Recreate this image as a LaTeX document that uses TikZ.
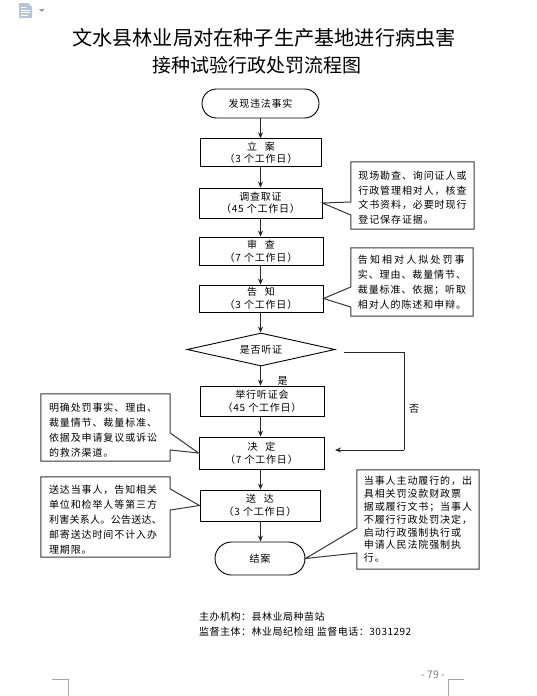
\documentclass[tikz,border=0pt]{standalone}
\usepackage{fontspec}
\setmainfont{Noto Sans CJK SC}
\usetikzlibrary{shapes.geometric,shapes.misc,arrows.meta}
\newcommand\bodyf{\fontsize{10}{12.5}\selectfont\addfontfeature{LetterSpace=8}}
\newcommand\callf[1]{\fontsize{10}{#1}\selectfont\addfontfeature{LetterSpace=9}}
\newcommand\gp{\hspace{8pt}}
\newcommand\tstrut{\rule{0pt}{13pt}}
\tikzset{
  x=1pt,y=-1pt,
  flowbox/.style={draw=black,line width=0.9pt,fill=white,inner sep=0pt,align=center,font=\bodyf},
  endbox/.style={flowbox,rounded rectangle},
  decis/.style={flowbox,diamond,aspect=4.3},
  calltext/.style={inner sep=0pt,align=left},
  callline/.style={draw=black!78,line width=1pt,line join=miter},
  arr/.style={draw=black!85,line width=1pt,-{Stealth[length=6pt,width=5pt]}},
  plain/.style={inner sep=0pt,font=\fontsize{10}{15}\selectfont\addfontfeature{LetterSpace=5}},
  crop/.style={draw=black!35,line width=0.8pt},
}
\begin{document}
\begin{tikzpicture}
\useasboundingbox[fill=white] (0,0) rectangle (537,696);
% header icon
\fill[blue!45!cyan!30!gray!45] (19,3) -- (28,3) -- (32,7) -- (32,18) -- (19,18) -- cycle;
\draw[white,line width=0.8pt] (21,7) -- (26,7) (21,10) -- (30,10) (21,12.5) -- (30,12.5) (21,15) -- (28,15);
\fill[black!40] (39,9) -- (44.5,9) -- (41.7,12) -- cycle;
% title
\node[inner sep=0pt] (t1) at (264,38) {\fontsize{20.2}{24}\selectfont 文水县林业局对在种子生产基地进行病虫害};
\node[inner sep=0pt] (t2) at (256.5,65) {\fontsize{19}{24}\selectfont 接种试验行政处罚流程图};
\coordinate (col) at (260.5,0);
% yes label (partly behind box)
\node[inner sep=0pt,font=\fontsize{10}{12}\selectfont] (yes) at (282.5,381) {是};
% flow nodes
\node[endbox,minimum width=117pt,minimum height=29pt] (n0) at (260.5,103.5) {发现违法事实};
\node[flowbox,minimum width=121pt,minimum height=27.5pt] (n1) at (261,152.5) {立\gp 案\\（3 个工作日）};
\node[flowbox,minimum width=123pt,minimum height=30pt] (n2) at (260.5,203) {调查取证\\（45 个工作日）};
\node[flowbox,minimum width=124pt,minimum height=28pt] (n3) at (261,251) {审\gp 查\\（7 个工作日）};
\node[flowbox,minimum width=124pt,minimum height=27pt] (n4) at (261,298.5) {告\gp 知\\（3 个工作日）};
\node[decis,minimum width=148pt,minimum height=33pt] (n5) at (261,349.5) {是否听证};
\node[flowbox,minimum width=124pt,minimum height=30pt] (n6) at (262,401) {举行听证会\\（45 个工作日）};
\node[flowbox,minimum width=125pt,minimum height=32pt] (n7) at (261.5,453) {决\gp 定\\（7 个工作日）};
\node[flowbox,minimum width=120pt,minimum height=31pt] (n8) at (260,505.5) {送\gp 达\\（3 个工作日）};
\node[endbox,minimum width=90pt,minimum height=33pt] (n9) at (260,558.5) {结案};
% flow connectors
\foreach \a/\b in {n0/n1,n1/n2,n2/n3,n3/n4,n4/n5,n5/n6,n6/n7,n7/n8,n8/n9}
  \draw[arr] (col |- \a.south) -- (col |- \b.north);
% no branch
\coordinate (nos) at (344,352);
\coordinate (noc) at (404,352);
\coordinate (nod) at (404,450);
\coordinate (noe) at (335,450);
\draw[draw=black!85,line width=0.9pt] (nos) -- (noc) -- (nod);
\draw[arr] (nod) -- (noe);
\node[inner sep=0pt,font=\fontsize{10}{12}\selectfont] (no) at (414,409) {否};
% callouts
\node[calltext,minimum width=123pt,minimum height=67pt,font=\callf{14.7}] (c1) at (412.5,195.5) {\tstrut 现场勘查、询问证人或\\行政管理相对人，核查\\文书资料，必要时现行\\登记保存证据。};
\draw[callline] (c1.north west) -- (c1.north east) -- (c1.south east) -- (c1.south west) -- (c1.west |- 0,215) -- (n2.east) -- (c1.west |- 0,202) -- cycle;
\node[calltext,minimum width=122pt,minimum height=68pt,font=\callf{15}] (c2) at (412,282) {{\addfontfeature{LetterSpace=21}告知相对人拟处罚事}\\实、理由、裁量情节、\\裁量标准、依据；听取\\相对人的陈述和申辩。};
\draw[callline] (c2.north west) -- (c2.north east) -- (c2.south east) -- (c2.south west) -- (c2.west |- 0,307) -- (n4.east) -- (c2.west |- 0,287) -- cycle;
\node[calltext,text width=113pt,minimum width=129pt,minimum height=67pt,font=\callf{15}] (c3) at (105.5,427.5) {\tstrut 明确处罚事实、理由、\\裁量情节、裁量标准、\\依据及申请复议或诉讼\\的救济渠道。};
\draw[callline] (c3.north west) -- (c3.north east) -- (c3.east |- 0,433) -- (n7.west) -- (c3.east |- 0,450) -- (c3.south east) -- (c3.south west) -- cycle;
\node[calltext,text width=113pt,minimum width=129pt,minimum height=80pt,font=\callf{15}] (c4) at (105.5,517) {\tstrut 送达当事人，告知相关\\单位和检举人等第三方\\{\addfontfeature{LetterSpace=3}利害关系人。公告送达、}\\邮寄送达时间不计入办\\理期限。};
\draw[callline] (c4.north west) -- (c4.north east) -- (c4.east |- 0,489) -- (n8.west) -- (c4.east |- 0,510) -- (c4.south east) -- (c4.south west) -- cycle;
\node[calltext,minimum width=122pt,minimum height=99pt,font=\callf{12.8}] (c5) at (418,519.5) {当事人主动履行的，出\\具相关罚没款财政票\\据或履行文书；当事人\\不履行行政处罚决定，\\启动行政强制执行或\\申请人民法院强制执\\行。};
\draw[callline] (c5.north west) -- (c5.north east) -- (c5.south east) -- (c5.south west) -- (c5.west |- 0,553) -- (n9.east) -- (c5.west |- 0,528) -- cycle;
% footer
\node[plain,anchor=west] (f1) at (199,617) {主办机构：县林业局种苗站};
\node[plain,anchor=west] (f2) at (199,632) {监督主体：林业局纪检组 监督电话：3031292};
\node[inner sep=0pt,anchor=west,text=black!50,font=\fontsize{10.5}{12}\selectfont] (pg) at (421,675) {- 79 -};
\draw[crop] (52,679.5) -- (68,679.5) -- (68,696);
\draw[crop] (464,679.5) -- (448,679.5) -- (448,696);
\end{tikzpicture}
\end{document}
